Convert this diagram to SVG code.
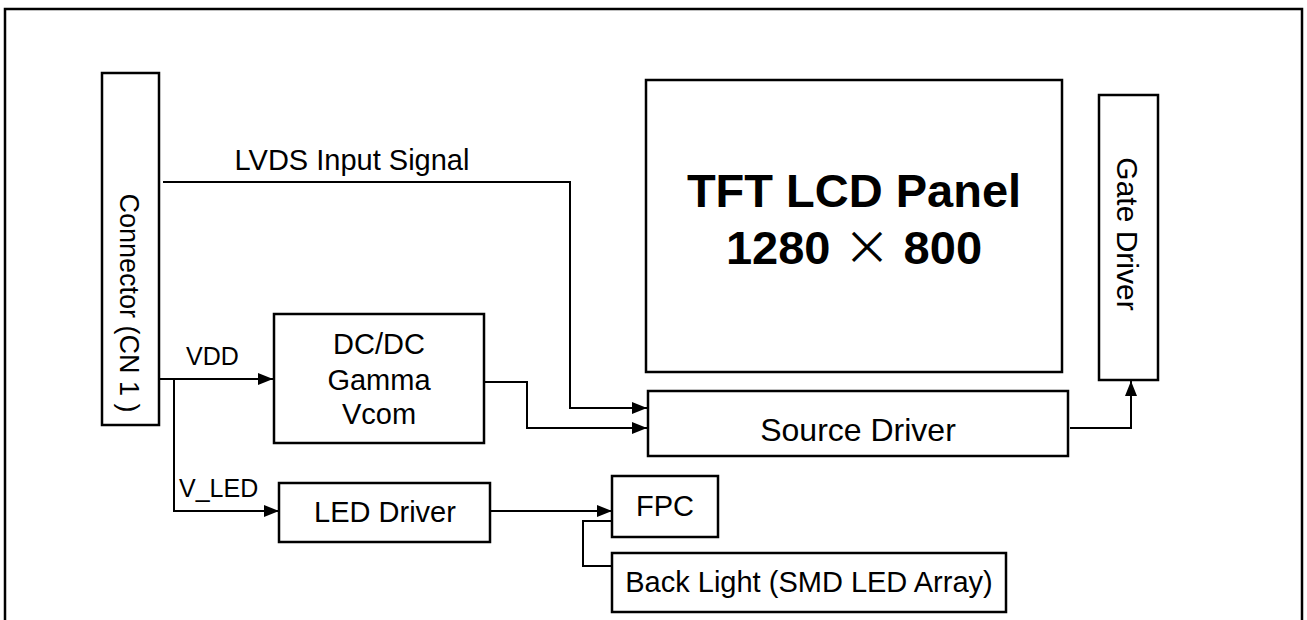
<svg xmlns="http://www.w3.org/2000/svg" width="1307" height="620" viewBox="0 0 1307 620">
  <style>
    .box { fill: #fff; stroke: #000; stroke-width: 2.5; }
    .wire { fill: none; stroke: #000; stroke-width: 2; }
    .t { font-family: "Liberation Sans", Arial, sans-serif; font-size: 29px; fill: #000; text-anchor: middle; }
    .s { font-family: "Liberation Sans", Arial, sans-serif; font-size: 25px; fill: #000; }
    .big { font-family: "Liberation Sans", Arial, sans-serif; font-size: 47px; font-weight: bold; fill: #000; text-anchor: middle; }
  </style>
  <defs>
    <marker id="arr" markerUnits="userSpaceOnUse" markerWidth="15" markerHeight="12" refX="15" refY="6" orient="auto">
      <path d="M0,0 L15,6 L0,12 z" fill="#000"/>
    </marker>
  </defs>
  <rect width="1307" height="620" fill="#fff"/>
  <path d="M5,621 V9 H1302 V621" fill="none" stroke="#000" stroke-width="2.5"/>

  <g id="connector">
    <rect class="box" x="102" y="73" width="57" height="352"/>
    <text class="t" transform="translate(120,303) rotate(90)" style="font-size:27px">Connector (CN 1 )</text>
  </g>
  <g id="tft-panel">
    <rect class="box" x="646" y="80" width="416" height="292"/>
    <text class="big" x="854" y="207">TFT LCD Panel</text>
    <text class="big" x="854" y="264">1280 <tspan font-weight="normal" font-family="Noto Sans CJK JP, sans-serif">×</tspan> 800</text>
  </g>
  <g id="gate-driver">
    <rect class="box" x="1099" y="95" width="59" height="285"/>
    <text class="t" transform="translate(1117,234) rotate(90)" style="font-size:30px">Gate Driver</text>
  </g>
  <g id="source-driver">
    <rect class="box" x="648" y="391" width="420" height="65"/>
    <text class="t" x="858" y="441" style="font-size:32px">Source Driver</text>
  </g>
  <g id="dcdc">
    <rect class="box" x="274" y="314" width="210" height="129"/>
    <text class="t" x="379" y="354">DC/DC</text>
    <text class="t" x="379" y="390">Gamma</text>
    <text class="t" x="379" y="424">Vcom</text>
  </g>
  <g id="led-driver">
    <rect class="box" x="279" y="483" width="211" height="59"/>
    <text class="t" x="385" y="522">LED Driver</text>
  </g>
  <g id="fpc">
    <rect class="box" x="612" y="476" width="106" height="61"/>
    <text class="t" x="665" y="516">FPC</text>
  </g>
  <g id="backlight">
    <rect class="box" x="612" y="553" width="394" height="59"/>
    <text class="t" x="809" y="592">Back Light (SMD LED Array)</text>
  </g>

  <g id="connectors">
    <path class="wire" d="M163,182 H570 V408 H647" marker-end="url(#arr)"/>
    <path class="wire" d="M159,379 H273" marker-end="url(#arr)"/>
    <path class="wire" d="M174,379 V511 H279" marker-end="url(#arr)"/>
    <path class="wire" d="M484,382 H527 V428 H647" marker-end="url(#arr)"/>
    <path class="wire" d="M1070,428 H1131 V381" marker-end="url(#arr)"/>
    <path class="wire" d="M491,511 H612" marker-end="url(#arr)"/>
    <path class="wire" d="M612,521 H583 V566 H612"/>
    <text class="t" x="352" y="170">LVDS Input Signal</text>
    <text class="s" x="186" y="365">VDD</text>
    <text class="s" x="179" y="497">V_LED</text>
  </g>
</svg>
